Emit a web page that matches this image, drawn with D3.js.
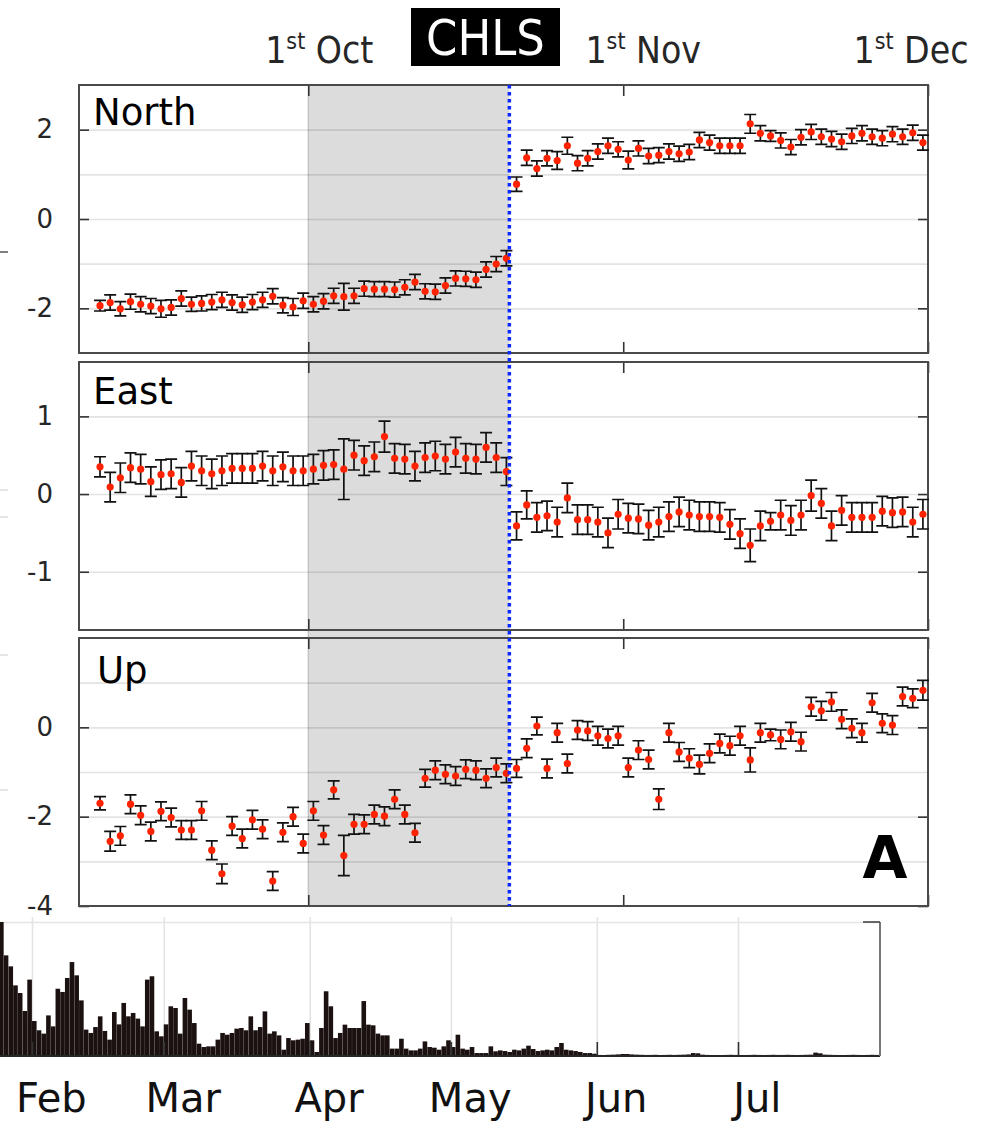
<!DOCTYPE html>
<html>
<head>
<meta charset="utf-8">
<script src="https://cdn.jsdelivr.net/npm/d3@7"></script>
<style>
  html, body { margin: 0; padding: 0; background: #fff; }
  svg { display: block; }
</style>
</head>
<body>
<svg id="chart" width="981" height="1123"></svg>
<script>
// ---------------- DATA ----------------
const stationName = "CHLS";
const componentNames = ["North", "East", "Up"];
const panelLetter = "A";

// daily GNSS solutions (noon), 10 Sep .. 30 Nov
const shadeStart = new Date(2015, 9, 1, 0);
const eventTime = new Date(2015, 9, 20, 19);

const northVals = [-1.94,-1.87,-2.01,-1.85,-1.91,-1.95,-2.01,-1.98,-1.78,-1.91,
  -1.89,-1.86,-1.81,-1.87,-1.92,-1.86,-1.81,-1.73,-1.93,-1.97,
  -1.83,-1.91,-1.84,-1.72,-1.74,-1.72,-1.56,-1.57,-1.57,-1.58,
  -1.53,-1.41,-1.62,-1.63,-1.49,-1.33,-1.34,-1.36,-1.13,-1.01,-0.88,
  0.78,1.37,1.13,1.36,1.31,1.64,1.25,1.36,1.51,1.64,
  1.56,1.32,1.58,1.41,1.43,1.51,1.46,1.50,1.77,1.71,
  1.64,1.64,1.64,2.13,1.92,1.86,1.76,1.61,1.83,1.95,
  1.84,1.79,1.73,1.86,1.92,1.84,1.81,1.90,1.84,1.93,1.71];
const northErr = [0.12,0.17,0.16,0.17,0.17,0.17,0.19,0.17,0.17,0.16,
  0.17,0.17,0.17,0.17,0.17,0.17,0.17,0.17,0.17,0.19,
  0.17,0.17,0.17,0.17,0.30,0.17,0.17,0.17,0.17,0.17,
  0.17,0.17,0.17,0.17,0.17,0.17,0.17,0.17,0.17,0.17,0.17,
  0.16,0.17,0.17,0.17,0.20,0.19,0.17,0.17,0.17,0.17,
  0.17,0.20,0.17,0.17,0.17,0.17,0.17,0.17,0.17,0.17,
  0.17,0.17,0.17,0.21,0.17,0.12,0.17,0.17,0.17,0.17,
  0.17,0.17,0.17,0.17,0.17,0.17,0.17,0.17,0.17,0.17,0.17];

const eastVals = [0.35,0.09,0.21,0.34,0.32,0.16,0.25,0.26,0.15,0.36,
  0.30,0.26,0.30,0.33,0.33,0.33,0.36,0.30,0.35,0.30,
  0.30,0.32,0.37,0.38,0.32,0.50,0.43,0.48,0.74,0.46,
  0.45,0.36,0.47,0.49,0.45,0.54,0.46,0.45,0.60,0.47,0.29,
  -0.41,-0.14,-0.30,-0.28,-0.36,-0.05,-0.33,-0.33,-0.36,-0.50,
  -0.26,-0.31,-0.32,-0.40,-0.36,-0.29,-0.23,-0.27,-0.29,-0.29,
  -0.30,-0.39,-0.51,-0.66,-0.41,-0.35,-0.27,-0.34,-0.27,-0.02,
  -0.12,-0.41,-0.21,-0.30,-0.30,-0.30,-0.22,-0.24,-0.23,-0.36,-0.26];
const eastErr = [0.13,0.19,0.19,0.19,0.19,0.19,0.19,0.19,0.19,0.19,
  0.19,0.19,0.19,0.19,0.19,0.19,0.19,0.19,0.19,0.19,
  0.19,0.19,0.19,0.19,0.39,0.19,0.19,0.19,0.20,0.19,
  0.19,0.19,0.19,0.19,0.19,0.19,0.19,0.19,0.19,0.19,0.18,
  0.18,0.18,0.19,0.19,0.19,0.19,0.19,0.19,0.19,0.19,
  0.19,0.19,0.19,0.19,0.19,0.19,0.19,0.19,0.19,0.19,
  0.19,0.19,0.19,0.21,0.19,0.11,0.19,0.19,0.19,0.20,
  0.19,0.19,0.19,0.19,0.19,0.19,0.19,0.19,0.19,0.19,0.19];

const upVals = [-1.70,-2.55,-2.43,-1.72,-1.97,-2.33,-1.88,-2.02,-2.30,-2.30,
  -1.87,-2.75,-3.28,-2.21,-2.49,-2.07,-2.28,-3.44,-2.35,-2.00,
  -2.60,-1.87,-2.41,-1.40,-2.87,-2.17,-2.17,-1.95,-1.99,-1.61,
  -1.95,-2.36,-1.14,-0.96,-1.05,-1.09,-0.94,-0.96,-1.14,-0.90,-1.03,
  -0.92,-0.47,0.03,-0.92,-0.12,-0.81,-0.06,-0.08,-0.19,-0.25,
  -0.19,-0.90,-0.51,-0.72,-1.61,-0.12,-0.55,-0.69,-0.83,-0.58,
  -0.36,-0.41,-0.19,-0.73,-0.12,-0.17,-0.27,-0.10,-0.32,0.46,
  0.37,0.57,0.18,-0.02,-0.12,0.55,0.09,0.05,0.69,0.65,0.83];
const upErr = [0.15,0.22,0.21,0.21,0.21,0.21,0.21,0.21,0.21,0.21,
  0.21,0.21,0.22,0.21,0.21,0.21,0.21,0.21,0.21,0.21,
  0.21,0.21,0.21,0.20,0.45,0.22,0.21,0.21,0.21,0.21,
  0.21,0.21,0.20,0.21,0.21,0.21,0.21,0.21,0.21,0.21,0.21,
  0.20,0.21,0.20,0.21,0.21,0.21,0.21,0.21,0.21,0.21,
  0.21,0.21,0.21,0.21,0.23,0.21,0.21,0.21,0.21,0.21,
  0.21,0.21,0.21,0.27,0.21,0.13,0.21,0.21,0.21,0.21,
  0.21,0.21,0.21,0.21,0.21,0.21,0.21,0.21,0.21,0.21,0.22];

const northTicks = [2, 0, -2];
const eastTicks = [1, 0, -1];
const upTicks = [0, -2, -4];
const topDateLabels = [["1", "st", " Oct"], ["1", "st", " Nov"], ["1", "st", " Dec"]];
const topDates = [new Date(2015, 9, 1), new Date(2015, 10, 1), new Date(2015, 11, 1)];

// daily activity histogram (relative height, %), 25 Jan .. 30 Jul
const histStart = new Date(2015, 0, 25);
const histEnd = new Date(2015, 6, 31);
const histVals = [
  100,75.1,66.9,52.7,47.0,33.6,57.0,26.1,19.2,16.7,
  30.3,22.1,50.2,47.8,58.2,70.1,60.2,41.5,19.7,17.2,
  21.6,29.6,18.7,12.2,32.8,23.6,39.6,29.6,32.1,27.9,
  22.1,57.0,59.5,18.4,14.7,23.6,37.1,35.8,16.7,43.3,
  34.6,24.6,9.2,6.7,7.2,7.2,12.2,17.2,15.9,17.2,
  20.4,20.9,19.2,29.6,19.2,21.6,33.3,16.7,18.4,15.4,
  4.7,13.4,11.7,12.2,12.9,24.6,11.7,3.0,20.9,48.3,
  37.1,13.4,17.2,23.4,20.9,20.9,20.9,41.0,23.4,22.9,
  16.7,15.4,15.4,5.5,5.5,12.9,5.5,4.2,4.2,5.5,
  10.9,6.7,6.2,4.7,7.2,11.7,6.7,15.9,5.5,4.7,
  6.7,2.2,2.2,2.2,7.2,3.5,4.2,
  3.7,3.0,4.7,4.2,5.5,7.7,5.2,3.7,4.2,4.7,
  4.2,6.7,9.7,4.7,4.2,3.7,3.0,2.2,2.2,1.7,
  0.8,0.7,0.9,1.0,1.2,1.5,1.5,1.2,1.0,0.9,
  0.8,0.8,0.9,0.7,0.8,0.9,0.8,0.9,1.0,1.2,
  2.2,2.0,1.0,0.8,0.7,0.6,0.7,0.8,0.9,0.8,
  0.7,0.6,0.8,0.9,0.8,0.7,0.8,0.9,0.8,0.8,
  0.9,0.8,0.7,0.8,0.9,1.0,2.5,2.0,1.0,0.9,
  0.8,0.7,0.7,0.8,0.9,0.8,0.7,0.8,0.9,0.8];
const monthLabels = ["Feb", "Mar", "Apr", "May", "Jun", "Jul"];

// ---------------- LAYOUT ----------------
const FONT = "'DejaVu Sans', sans-serif";
const FONT_C = "'DejaVu Sans Condensed', 'DejaVu Sans', sans-serif";
const L = 79, R = 928;
const topLabelDx = [11, 20, -17];

const svg = d3.select("#chart");

const x = d3.scaleTime()
  .domain([new Date(2015, 8, 8, 10, 20), new Date(2015, 11, 1, 0)])
  .range([L, R]);

const days = d3.timeDay.range(new Date(2015, 8, 10), new Date(2015, 11, 1))
  .map(d => d3.timeHour.offset(d, 12));

const panels = [
  { name: componentNames[0], vals: northVals, err: northErr, dom: [-3, 3], top: 85, bottom: 353,
    ticks: northTicks, grid: [2, 1, 0, -1, -2], lx: 93, ly: 125 },
  { name: componentNames[1], vals: eastVals, err: eastErr, dom: [-1.75, 1.7], top: 362, bottom: 630,
    ticks: eastTicks, grid: [1, 0, -1], lx: 93, ly: 404 },
  { name: componentNames[2], vals: upVals, err: upErr, dom: [-4, 2], top: 638, bottom: 906,
    ticks: upTicks, grid: [1, 0, -1, -2, -3], lx: 97, ly: 683 }
];

// fragments of the neighbouring figure at the left edge
[[252, "#555"], [490, "#ddd"], [517, "#ddd"], [655, "#ddd"], [790, "#ddd"]].forEach(([yy, c]) => {
  svg.append("line").attr("x1", 0).attr("x2", 8).attr("y1", yy).attr("y2", yy)
    .attr("stroke", c).attr("stroke-width", 1.5);
});

// shaded period across all three panels
svg.append("rect")
  .attr("x", x(shadeStart)).attr("y", 85)
  .attr("width", x(eventTime) - x(shadeStart)).attr("height", 906 - 85)
  .attr("fill", "#dcdcdc");
svg.append("line")
  .attr("x1", x(shadeStart)).attr("x2", x(shadeStart))
  .attr("y1", 85).attr("y2", 906)
  .attr("stroke", "#bdbdbd").attr("stroke-width", 1.2);

panels.forEach(p => {
  const y = d3.scaleLinear().domain(p.dom).range([p.bottom, p.top]);
  const g = svg.append("g");

  // gridlines
  g.append("g").attr("transform", `translate(${L},0)`)
    .call(d3.axisLeft(y).tickValues(p.grid).tickSizeInner(-(R - L)).tickSizeOuter(0).tickFormat(""))
    .call(s => s.select(".domain").remove())
    .call(s => s.selectAll("line").attr("stroke", "rgba(0,0,0,0.11)").attr("stroke-width", 1.6));

  // left ticks + labels
  g.append("g").attr("transform", `translate(${L},0)`)
    .call(d3.axisLeft(y).tickValues(p.ticks).tickSizeInner(-10).tickSizeOuter(0).tickPadding(26)
      .tickFormat(d3.format("d")))
    .call(s => s.select(".domain").remove())
    .call(s => s.selectAll("line").attr("stroke", "#333").attr("stroke-width", 1.6))
    .call(s => s.selectAll("text").attr("font-family", FONT).attr("font-size", 26)
      .attr("fill", "#262626").text(d => d < 0 ? "-" + Math.abs(d) : d));
  // right ticks
  g.append("g").attr("transform", `translate(${R},0)`)
    .call(d3.axisRight(y).tickValues(p.ticks).tickSizeInner(-10).tickSizeOuter(0).tickFormat(""))
    .call(s => s.select(".domain").remove())
    .call(s => s.selectAll("line").attr("stroke", "#333").attr("stroke-width", 1.6));
  // top / bottom date ticks
  g.append("g").attr("transform", `translate(0,${p.top})`)
    .call(d3.axisTop(x).tickValues(topDates).tickSizeInner(-11).tickSizeOuter(0).tickFormat(""))
    .call(s => s.select(".domain").remove())
    .call(s => s.selectAll("line").attr("stroke", "#333").attr("stroke-width", 1.6));
  g.append("g").attr("transform", `translate(0,${p.bottom})`)
    .call(d3.axisBottom(x).tickValues(topDates).tickSizeInner(-11).tickSizeOuter(0).tickFormat(""))
    .call(s => s.select(".domain").remove())
    .call(s => s.selectAll("line").attr("stroke", "#333").attr("stroke-width", 1.6));

  // frame
  g.append("rect").attr("x", L).attr("y", p.top).attr("width", R - L).attr("height", p.bottom - p.top)
    .attr("fill", "none").attr("stroke", "#4a4a4a").attr("stroke-width", 2);

  // component label
  g.append("text").attr("x", p.lx).attr("y", p.ly).text(p.name)
    .attr("font-family", FONT).attr("font-size", 37).attr("fill", "#000");

  // error bars
  const pts = p.vals.map((v, i) => ({ t: days[i], v, e: p.err[i] }));
  const eb = g.append("g").attr("stroke", "#111").attr("stroke-width", 1.7).attr("fill", "none");
  eb.selectAll("path").data(pts).join("path")
    .attr("d", d => {
      const cx = x(d.t), y1 = y(d.v + d.e), y2 = y(d.v - d.e), w = 6;
      return `M${cx},${y1}V${y2}M${cx - w},${y1}H${cx + w}M${cx - w},${y2}H${cx + w}`;
    });
  // points
  g.append("g").selectAll("circle").data(pts).join("circle")
    .attr("cx", d => x(d.t)).attr("cy", d => y(d.v)).attr("r", 3.6)
    .attr("fill", "#ff2200");
});

// event line
svg.append("line")
  .attr("x1", x(eventTime)).attr("x2", x(eventTime))
  .attr("y1", 85).attr("y2", 906)
  .attr("stroke", "#0a28ff").attr("stroke-width", 3.5)
  .attr("stroke-dasharray", "3.5,3.5");

// panel letter
svg.append("text").attr("x", 885).attr("y", 878).attr("text-anchor", "middle")
  .text(panelLetter).attr("font-family", FONT).attr("font-weight", "bold")
  .attr("font-size", 58).attr("fill", "#000");

// top date labels
topDates.forEach((d, i) => {
  const t = svg.append("text").attr("x", x(d) + topLabelDx[i]).attr("y", 63)
    .attr("text-anchor", "middle").attr("font-family", FONT_C).attr("font-size", 37)
    .attr("fill", "#262626");
  t.append("tspan").text(topDateLabels[i][0]);
  t.append("tspan").text(topDateLabels[i][1]).attr("font-size", 23).attr("dy", -14);
  t.append("tspan").text(topDateLabels[i][2]).attr("dy", 14);
});

// station title
svg.append("rect").attr("x", 411).attr("y", 8).attr("width", 149).attr("height", 58).attr("fill", "#000");
svg.append("text").attr("x", 485.5).attr("y", 55).attr("text-anchor", "middle")
  .text(stationName).attr("font-family", FONT_C).attr("font-size", 50).attr("fill", "#fff");

// ---------------- HISTOGRAM ----------------
const hx = d3.scaleTime().domain([histStart, histEnd]).range([-0.95, 879.2]);
const hy = d3.scaleLinear().domain([0, 100]).range([1056, 922]);
const hdays = d3.timeDay.range(histStart, histEnd);
const months = monthLabels.map((m, i) => new Date(2015, i + 1, 1));
const labelDates = monthLabels.map((m, i) => new Date(2015, i + 1, 5));

const hg = svg.append("g");
// top gridline
hg.append("g")
  .call(d3.axisLeft(hy).tickValues([100]).tickSizeInner(-880).tickSizeOuter(0).tickFormat(""))
  .call(s => s.select(".domain").remove())
  .call(s => s.selectAll("line").attr("stroke", "#e4e4e4").attr("stroke-width", 1.6));
// vertical month gridlines
hg.append("g").attr("transform", "translate(0,1056)")
  .call(d3.axisBottom(hx).tickValues(months).tickSizeInner(-(1056 - 917)).tickSizeOuter(0).tickFormat(""))
  .call(s => s.select(".domain").remove())
  .call(s => s.selectAll("line").attr("stroke", "#e4e4e4").attr("stroke-width", 1.6));

hg.append("g").selectAll("rect").data(hdays.map((d, i) => ({ d, v: histVals[i] }))).join("rect")
  .attr("x", d => hx(d.d))
  .attr("width", d => hx(d3.timeDay.offset(d.d, 1)) - hx(d.d) - 0.1)
  .attr("y", d => hy(Math.min(d.v, 100)))
  .attr("height", d => hy(0) - hy(Math.min(d.v, 100)))
  .attr("fill", "#1c1111");

// month ticks (inward)
hg.append("g").attr("transform", "translate(0,1056)")
  .call(d3.axisBottom(hx).tickValues(months).tickSizeInner(-14).tickSizeOuter(0).tickFormat(""))
  .call(s => s.select(".domain").remove())
  .call(s => s.selectAll("line").attr("stroke", "#333").attr("stroke-width", 1.6));
// month labels
hg.append("g").attr("transform", "translate(0,1056)")
  .call(d3.axisBottom(hx).tickValues(labelDates).tickSize(0).tickPadding(28)
    .tickFormat((d, i) => monthLabels[i]))
  .call(s => s.select(".domain").remove())
  .call(s => s.selectAll("text").attr("font-family", FONT).attr("font-size", 40)
    .attr("fill", "#111").attr("dy", "0.71em"));

// histogram frame
hg.append("line").attr("x1", 0).attr("x2", 880).attr("y1", 1056).attr("y2", 1056)
  .attr("stroke", "#262626").attr("stroke-width", 2);
hg.append("line").attr("x1", 880).attr("x2", 880).attr("y1", 922).attr("y2", 1056)
  .attr("stroke", "#777").attr("stroke-width", 2);
hg.append("line").attr("x1", 863).attr("x2", 880).attr("y1", 922).attr("y2", 922)
  .attr("stroke", "#444").attr("stroke-width", 1.6);
</script>
</body>
</html>
